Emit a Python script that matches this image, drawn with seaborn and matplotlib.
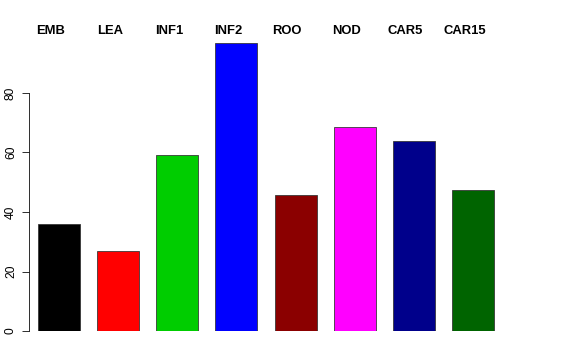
import matplotlib
matplotlib.use("Agg")
import matplotlib.pyplot as plt
import seaborn as sns
import pandas as pd

categories = ["EMB", "LEA", "INF1", "INF2", "ROO", "NOD", "CAR5", "CAR15"]
values = [36.0, 26.9, 59.2, 96.8, 45.7, 68.6, 63.9, 47.4]
colors = ["#000000", "#FF0000", "#00CD00", "#0000FF", "#8B0000", "#FF00FF", "#00008B", "#006400"]
y_ticks = [0, 20, 40, 60, 80]

sns.set_style("white")
plt.rcParams['font.family'] = ['Liberation Sans', 'DejaVu Sans']
plt.rcParams['text.color'] = 'black'
plt.rcParams['ytick.color'] = 'black'
plt.rcParams['ytick.labelcolor'] = 'black'

W, H = 576, 360
fig = plt.figure(figsize=(8, 5), dpi=72)
left_px, right_px, bottom_px, top_px = 29, 545, 331, 20
ax = fig.add_axes([left_px / W, 1 - bottom_px / H, (right_px - left_px) / W, (bottom_px - top_px) / H])

df = pd.DataFrame({"cat": categories, "val": values})
sns.barplot(data=df, x="cat", y="val", hue="cat", palette=colors, width=0.71,
            edgecolor="#333333", linewidth=0.8, legend=False, ax=ax, saturation=1)

ppu = 59.14
ax.set_xlim((left_px - 59) / ppu, (right_px - 59) / ppu)
ax.set_ylim(0, (bottom_px - top_px) / 2.975)

for s in ["top", "right", "bottom"]:
    ax.spines[s].set_visible(False)
ax.spines["left"].set_bounds(0, 80)
ax.spines["left"].set_color("#000000")
ax.spines["left"].set_linewidth(0.8)

ax.set_xticks([])
ax.set_yticks(y_ticks)
ax.set_yticklabels([str(t) for t in y_ticks], rotation=90, va="center", fontsize=12, color="black")
ax.tick_params(axis="y", left=True, length=7, width=0.8, pad=5, color="#000000")
ax.set_xlabel("")
ax.set_ylabel("")

for i, c in enumerate(categories):
    ax.text(i - 0.14, 100.8, c, ha="center", va="center", fontweight="bold", fontsize=13, color="black")

fig.savefig("out.png", dpi=72)
